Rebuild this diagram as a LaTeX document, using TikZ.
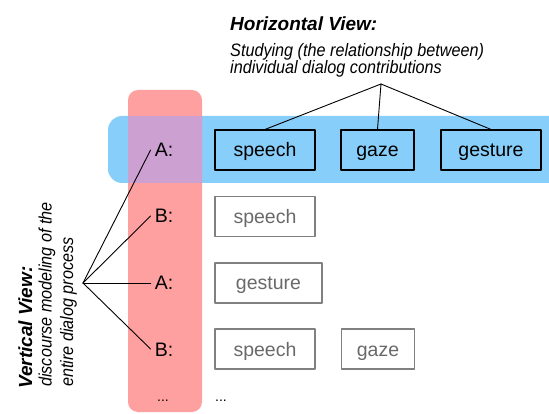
\documentclass[tikz,border=0pt]{standalone}
\usepackage{fontspec}
\setmainfont{Liberation Sans}
\newfontfamily\narrowfont[FakeStretch=0.9]{Liberation Sans}
\definecolor{bandblue}{RGB}{135,206,250}
\definecolor{colred}{RGB}{255,160,160}
\definecolor{overlap}{RGB}{205,160,210}
\definecolor{greyline}{RGB}{128,128,128}
\definecolor{greytext}{RGB}{105,105,105}
\tikzset{
	turn/.style={draw=black, line width=1.1pt, minimum width=100pt, minimum height=40pt, inner sep=0pt, text height=14pt, text depth=0pt, font=\fontsize{19.5}{22}\selectfont},
	turngrey/.style={turn, draw=greyline, text=greytext},
	spk/.style={inner xsep=4pt, inner ysep=0pt, text height=14pt, text depth=0pt, font=\fontsize{19.5}{22}\selectfont},
	head/.style={inner sep=0pt, font=\fontsize{19}{22}\selectfont\bfseries\itshape},
	desc/.style={inner sep=0pt, font=\narrowfont\fontsize{18}{21}\selectfont\itshape}
}
\begin{document}
\begin{tikzpicture}[x=1pt, y=-1pt, line join=round, line cap=round]
			\useasboundingbox (0,0) rectangle (549,414);
			\clip (0,0) rectangle (549,414);
			\def\rb{14pt} % blue band corner
			\def\rr{10pt} % red column corner
			% horizontal band and vertical column
			\fill[bandblue, rounded corners=\rb] (108,116) rectangle (580,183);
			\fill[colred, rounded corners=\rr] (128,90) rectangle (202,412);
			\begin{scope}
				\clip[rounded corners=\rr] (128,90) rectangle (202,412);
				\fill[overlap] (108,116) rectangle (580,183);
			\end{scope}
			% speakers
			\node[spk] (a1) at (164,150) {A:};
			\node[spk] (b1) at (164,216) {B:};
			\node[spk] (a2) at (164,283) {A:};
			\node[spk] (b2) at (164,349) {B:};
			\node[anchor=base, font=\fontsize{14}{16}\selectfont] (d1) at (163,401) {...};
			% contributions
			\node[turn] (sp1) at (265,150) {speech};
			\node[turn, minimum width=73pt] (gz1) at (377.5,150) {gaze};
			\node[turn] (ge1) at (491,150) {gesture};
			\node[turngrey] (sp2) at (265,216.5) {speech};
			\node[turngrey, minimum width=107pt] (ge2) at (268.5,283) {gesture};
			\node[turngrey] (sp3) at (265,349) {speech};
			\node[turngrey, minimum width=73pt] (gz3) at (378,349) {gaze};
			\node[anchor=base west, font=\fontsize{14}{16}\selectfont, inner sep=0pt] (d2) at (215,401) {...};
			% views
			\node[head, anchor=base west] (hhead) at (230,30.5) {Horizontal View:};
			\node[desc, anchor=base west] (hline1) at (230,56.5) {Studying (the relationship between)};
			\node[desc, anchor=base west] (hline2) at (230,74) {individual dialog contributions};
			\node[head, rotate=90, anchor=base west] (vhead) at (32,389) {Vertical View:};
			\node[desc, rotate=90, anchor=base west] (vline1) at (51.5,387) {discourse modeling of the};
			\node[desc, rotate=90, anchor=base west] (vline2) at (73,387) {entire dialog process};
			% fans
			\coordinate (hroot) at (381,84);
			\coordinate (vroot) at (83,283);
			\foreach \t in {sp1,gz1,ge1}\draw[line width=0.9pt] (hroot)--(\t.north);
			\foreach \t in {a1,b1,a2,b2}\draw[line width=0.9pt] (vroot)--(\t.west);
			\end{tikzpicture}
\end{document}
